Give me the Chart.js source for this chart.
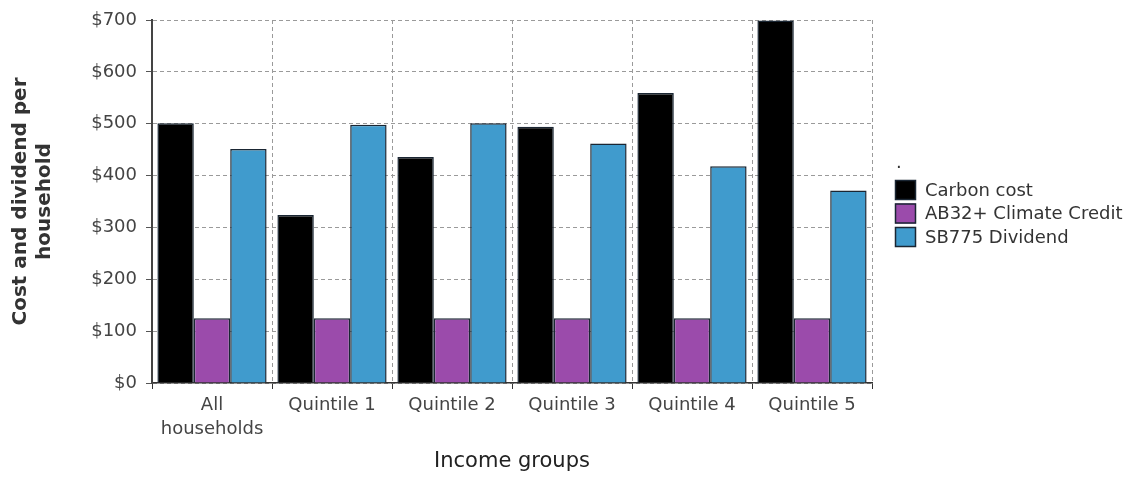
<!DOCTYPE html>
<html>
<head>
<meta charset="utf-8">
<title>Carbon cost and dividends by income group</title>
<script src="https://cdn.jsdelivr.net/npm/chart.js@4.4.1/dist/chart.umd.min.js"></script>
<style>
  html, body { margin: 0; padding: 0; background: #fff; }
  #wrap { width: 1123px; height: 482px; position: relative; }
</style>
</head>
<body>
<div id="wrap"><canvas id="costChart"></canvas></div>
<script>
const incomeGroups = [['All', 'households'], 'Quintile 1', 'Quintile 2', 'Quintile 3', 'Quintile 4', 'Quintile 5'];
const carbonCost = [501, 324, 436, 494, 559, 699];
const climateCredit = [125, 125, 125, 125, 125, 125];
const sb775Dividend = [451, 498, 501, 462, 418, 371];
const yTicks = [0, 100, 200, 300, 400, 500, 600, 700];

const FONT = 'DejaVu Sans';
const gridColor = '#9a9a9a';

// legend drawn by hand so it sits beside the bars, not centred on the canvas
const sideLegend = {
    id: 'sideLegend',
    afterDraw(chart) {
        const ctx = chart.ctx;
        const x = chart.chartArea.right + 23;
        let y = 180;
        ctx.save();
        ctx.fillStyle = '#333';
        ctx.font = '18px ' + FONT;
        ctx.textBaseline = 'middle';
        ctx.fillText('.', x + 1, y - 17);
        chart.data.datasets.forEach(ds => {
            ctx.fillStyle = ds.backgroundColor;
            ctx.fillRect(x, y, 21, 20);
            ctx.strokeStyle = '#1a2633';
            ctx.lineWidth = 1.5;
            ctx.strokeRect(x + 0.5, y + 0.5, 20, 19);
            ctx.fillStyle = '#333';
            ctx.fillText(ds.label, x + 30, y + 11);
            y += 23.5;
        });
        ctx.restore();
    }
};

new Chart(document.getElementById('costChart'), {
    type: 'bar',
    data: {
        labels: incomeGroups,
        datasets: [
            { label: 'Carbon cost', data: carbonCost, backgroundColor: '#000000' },
            { label: 'AB32+ Climate Credit', data: climateCredit, backgroundColor: '#9b4bab' },
            { label: 'SB775 Dividend', data: sb775Dividend, backgroundColor: '#409bcd' }
        ]
    },
    options: {
        responsive: true,
        maintainAspectRatio: false,
        animation: false,
        layout: { padding: { top: 20, right: 251, bottom: 0, left: 0 } },
        datasets: {
            bar: {
                categoryPercentage: 0.91,
                barPercentage: 1.0,
                borderWidth: 1.5,
                borderColor: '#1a2633'
            }
        },
        plugins: {
            legend: { display: false },
            tooltip: { enabled: false }
        },
        scales: {
            x: {
                grid: {
                    color: gridColor,
                    tickColor: '#333',
                    tickLength: 6,
                    offset: true
                },
                border: { color: '#333', width: 1.5, dash: [4, 3] },
                ticks: {
                    color: '#444',
                    padding: 4,
                    maxRotation: 0,
                    font: { family: FONT, size: 18, lineHeight: 1.35 }
                },
                title: {
                    display: true,
                    text: 'Income groups',
                    color: '#222',
                    padding: { top: 0, bottom: 8 },
                    font: { family: FONT, size: 21 }
                },
                afterFit(scale) { scale.height = 99; }
            },
            y: {
                min: 0,
                max: 700,
                afterBuildTicks(scale) {
                    scale.ticks = yTicks.map(v => ({ value: v }));
                },
                grid: {
                    color: gridColor,
                    tickColor: '#555',
                    tickLength: 6
                },
                border: { color: '#444', width: 2, dash: [4, 3] },
                ticks: {
                    color: '#444',
                    padding: 9,
                    font: { family: FONT, size: 18 },
                    callback: v => '$' + v
                },
                title: {
                    display: true,
                    text: ['Cost and dividend per', 'household'],
                    color: '#333',
                    padding: { top: 9, bottom: 0 },
                    font: { family: FONT, size: 20, weight: 'bold' }
                },
                afterFit(scale) { scale.width = 152; }
            }
        }
    },
    plugins: [sideLegend]
});
</script>
</body>
</html>
